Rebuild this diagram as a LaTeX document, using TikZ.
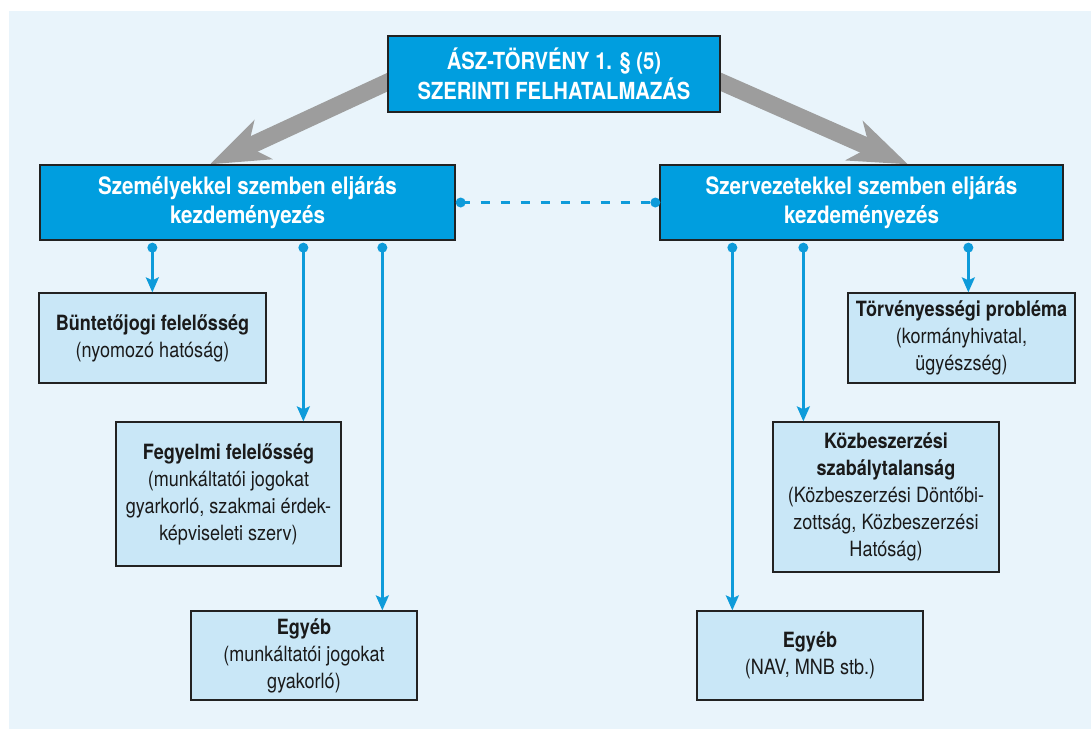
\documentclass[tikz,border=0pt]{standalone}
\usepackage{fontspec}
\setmainfont{TeX Gyre Heros}[FakeStretch=0.86]
\usetikzlibrary{arrows.meta}
\definecolor{bgc}{HTML}{E9F4FB}
\definecolor{dblue}{HTML}{009EDF}
\definecolor{lblue}{HTML}{C9E7F7}
\definecolor{lineblue}{HTML}{0E9BDA}
\definecolor{agray}{HTML}{9D9D9D}
\definecolor{txt}{HTML}{1A1A1A}
\definecolor{edge}{HTML}{222222}
\pgfdeclarelayer{back}
\pgfdeclarelayer{mid}
\pgfsetlayers{back,mid,main}
\begin{document}
\begin{tikzpicture}[x=1pt,y=-1pt,
  darkbox/.style={draw=edge, line width=1.3pt, fill=dblue, text=white, inner sep=0pt, align=center, font=\bfseries},
  topfont/.style={font=\fontsize{23.5}{30}\selectfont\bfseries},
  mainfont/.style={font=\fontsize{24}{29}\selectfont\bfseries},
  lightbox/.style={draw=edge, line width=1.3pt, fill=lblue, text=txt, inner sep=0pt, align=center, font=\fontsize{21}{27}\selectfont},
  conn/.style={draw=lineblue, line width=2.5pt, -{Stealth[length=15pt,width=13pt,inset=3pt]}},
  dot/.style={fill=lineblue},
  garrow/.style={draw=agray, line width=17pt, -{Stealth[length=58pt,width=42pt,inset=16pt]}}
]
\useasboundingbox (0,0) rectangle (1091,729);
\begin{pgfonlayer}{back}
\fill[bgc] (9,11) rectangle (1091,729);
\end{pgfonlayer}

\node[darkbox, topfont, minimum width=332pt, minimum height=76pt] (T) at (554,74) {ÁSZ-TÖRVÉNY 1. § (5)\\SZERINTI FELHATALMAZÁS};
\node[darkbox, mainfont, minimum width=415pt, minimum height=75pt] (L) at (247.5,202.5) {Személyekkel szemben eljárás\\kezdeményezés};
\node[darkbox, mainfont, minimum width=403pt, minimum height=75pt] (R) at (861.5,202.5) {Szervezetekkel szemben eljárás\\kezdeményezés};

\node[lightbox, minimum width=227pt, minimum height=90pt] (B1) at (152.5,338) {\textbf{Büntetőjogi felelősség}\\(nyomozó hatóság)};
\node[lightbox, minimum width=225pt, minimum height=144pt] (B2) at (228.5,494) {\textbf{Fegyelmi felelősség}\\(munkáltatói jogokat\\gyarkorló, szakmai érdek-\\képviseleti szerv)};
\node[lightbox, minimum width=226pt, minimum height=89pt] (B3) at (304,655.5) {\textbf{Egyéb}\\(munkáltatói jogokat\\gyakorló)};
\node[lightbox, minimum width=227pt, minimum height=90pt] (B4) at (961.5,338) {\textbf{Törvényességi probléma}\\(kormányhivatal,\\ügyészség)};
\node[lightbox, minimum width=226pt, minimum height=150pt] (B5) at (886,497) {\textbf{Közbeszerzési}\\\textbf{szabálytalanság}\\(Közbeszerzési Döntőbi-\\zottság, Közbeszerzési\\Hatóság)};
\node[lightbox, minimum width=226pt, minimum height=89pt] (B6) at (810,655.5) {\textbf{Egyéb}\\(NAV, MNB stb.)};

% gray arrows
\begin{pgfonlayer}{mid}
\coordinate (gls) at ([xshift=22pt,yshift=2pt]T.west);
\coordinate (glt) at ([xshift=-37.5pt]L.north);
\coordinate (grs) at ([xshift=-20pt,yshift=1pt]T.east);
\coordinate (grt) at ([xshift=46.5pt]R.north);
\draw[garrow] (gls) -- (glt);
\draw[garrow] (grs) -- (grt);
\end{pgfonlayer}

% connector start points
\coordinate (l1) at ([xshift=113pt,yshift=-7pt]L.south west);
\coordinate (l2) at ([xshift=264pt,yshift=-7pt]L.south west);
\coordinate (l3) at ([xshift=343pt,yshift=-7pt]L.south west);
\coordinate (r1) at ([xshift=73pt,yshift=-7pt]R.south west);
\coordinate (r2) at ([xshift=144pt,yshift=-7pt]R.south west);
\coordinate (r3) at ([xshift=309pt,yshift=-7pt]R.south west);

\draw[conn] (l1) -- (l1 |- B1.north);
\draw[conn] (l2) -- (l2 |- B2.north);
\draw[conn] (l3) -- (l3 |- B3.north);
\draw[conn] (r1) -- (r1 |- B6.north);
\draw[conn] (r2) -- (r2 |- B5.north);
\draw[conn] (r3) -- (r3 |- B4.north);
\foreach \p in {l1,l2,l3,r1,r2,r3} \fill[dot] (\p) circle (5pt);

% dashed link
\coordinate (d1) at ([xshift=5pt]L.east);
\coordinate (d2) at ([xshift=-4pt]R.west);
\draw[lineblue, line width=2.5pt, dash pattern=on 9pt off 11pt] (d1) -- (d2);
\fill[dot] (d1) circle (5pt);
\fill[dot] (d2) circle (5pt);
\end{tikzpicture}
\end{document}
